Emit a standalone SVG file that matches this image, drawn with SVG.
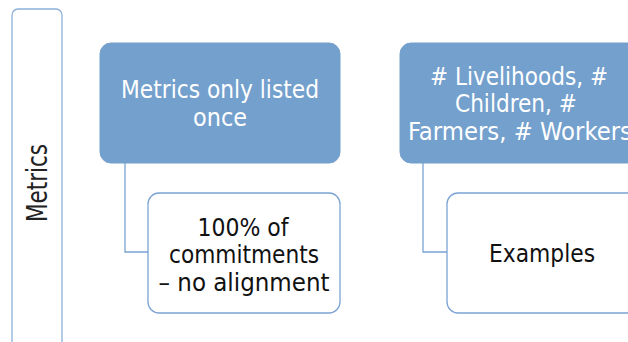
<svg xmlns="http://www.w3.org/2000/svg" width="628" height="342" viewBox="0 0 628 342">
<style>
.frame{fill:#ffffff;stroke:#8DB0DA;stroke-width:1.3}
.parent{fill:#74A0CD;stroke:#74A0CD;stroke-width:1}
.child{fill:#ffffff;stroke:#7BA3D3;stroke-width:1.3}
.conn{fill:none;stroke:#7BA3D3;stroke-width:1.3}
.t{font-family:"DejaVu Sans Condensed","DejaVu Sans",sans-serif;font-stretch:condensed;font-size:25px;text-anchor:middle}
.w{fill:#ffffff}
.k{fill:#111111}
</style>
<rect width="628" height="342" fill="#ffffff"/>
<g id="metrics-label">
<rect class="frame" x="12" y="9" width="50" height="350" rx="6"/>
<text class="t" style="font-size:28px;fill:#222222" transform="translate(47,183) rotate(-90)" x="0" y="0" textLength="78" lengthAdjust="spacingAndGlyphs">Metrics</text>
</g>
<g id="connectors">
<path class="conn" d="M125,163 V252 H148"/>
<path class="conn" d="M423,163 V252 H447"/>
</g>
<g id="node-metrics-once">
<rect class="parent" x="100" y="43" width="240" height="120" rx="11"/>
<text class="t w" x="220" y="98" textLength="198" lengthAdjust="spacingAndGlyphs">Metrics only listed</text>
<text class="t w" x="220" y="125.5" textLength="54" lengthAdjust="spacingAndGlyphs">once</text>
</g>
<g id="node-commitments">
<rect class="child" x="148" y="193" width="192" height="120" rx="11"/>
<text class="t k" x="243" y="235.5" textLength="91" lengthAdjust="spacingAndGlyphs">100% of</text>
<text class="t k" x="244" y="263" textLength="150" lengthAdjust="spacingAndGlyphs">commitments</text>
<text class="t k" x="244" y="290.5" textLength="171" lengthAdjust="spacingAndGlyphs">– no alignment</text>
</g>
<g id="node-livelihoods">
<rect class="parent" x="400" y="43" width="240" height="120" rx="11"/>
<text class="t w" x="519" y="84.5" textLength="178" lengthAdjust="spacingAndGlyphs"># Livelihoods, #</text>
<text class="t w" x="516" y="112" textLength="122" lengthAdjust="spacingAndGlyphs">Children, #</text>
<text class="t w" x="520" y="139.5" textLength="224" lengthAdjust="spacingAndGlyphs">Farmers, # Workers</text>
</g>
<g id="node-examples">
<rect class="child" x="447" y="193" width="192" height="120" rx="11"/>
<text class="t k" x="542" y="262" textLength="106" lengthAdjust="spacingAndGlyphs">Examples</text>
</g>
</svg>
